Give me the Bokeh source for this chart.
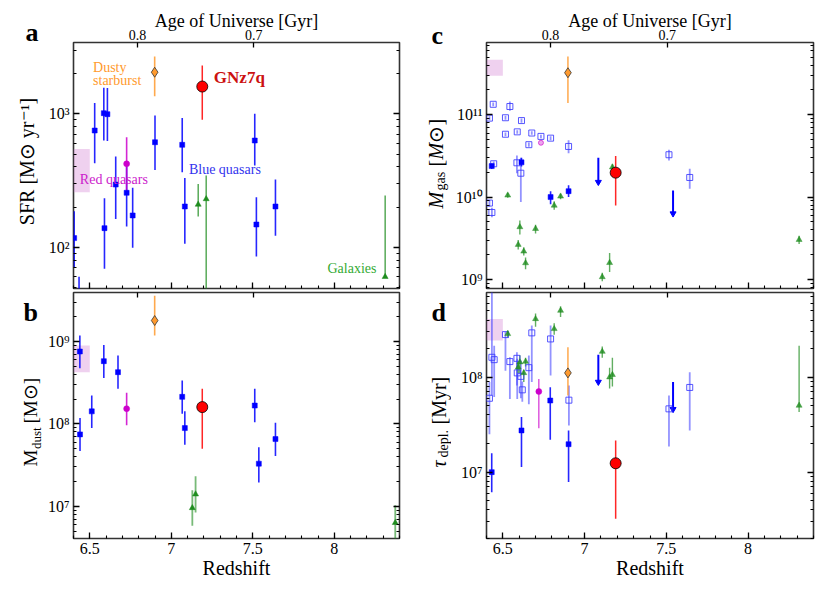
import numpy as np
from math import pi
from bokeh.plotting import figure
from bokeh.models import ColumnDataSource, Range1d, FixedTicker, LinearAxis, LogAxis, Label
from bokeh.layouts import column, row
from bokeh.embed import file_html
from bokeh.resources import INLINE

# ---------------- data ----------------
# Top axis: Age of Universe ticks (Gyr) and the redshift where they sit
age_labels = ["0.8", "0.7"]
age_z = [6.792, 7.506]

# Panel a: SFR [Msun/yr]
a_blue_z = [6.404, 6.434, 6.530, 6.586, 6.608, 6.590, 6.659, 6.726, 6.763, 6.900, 7.067, 7.083, 7.512, 7.522, 7.639]
a_blue_v = [117, 35, 750, 1012, 995, 139, 295, 256, 173, 613, 586, 202, 631, 148, 202]
a_blue_lo = [71, 20, 427, 631, 625, 69, 163, 143, 99, 380, 365, 106, 410, 85, 122]
a_blue_hi = [186, 60, 1209, 1567, 1560, 233, 479, 405, 279, 972, 933, 331, 1000, 237, 322]
a_gal_z = [7.165, 7.214, 8.312]
a_gal_v = [209, 230, 60]
a_gal_lo = [170, 10, 60]
a_gal_hi = [298, 345, 244]
a_red_z = [6.726]; a_red_v = [422]; a_red_lo = [254]; a_red_hi = [668]
a_dsb_z = [6.898]; a_dsb_v = [2053]; a_dsb_lo = [1357]; a_dsb_hi = [2692]
a_gn_z = [7.19]; a_gn_v = [1603]; a_gn_lo = [902]; a_gn_hi = [2304]
a_box = dict(left=[6.4], right=[6.5], bottom=[258], top=[546])

# Panel b: Mdust [Msun]
b_blue_z = [6.439, 6.440, 6.512, 6.586, 6.673, 7.067, 7.083, 7.512, 7.537, 7.639]
b_blue_v = [7.57e8, 7.46e7, 1.42e8, 5.78e8, 4.25e8, 2.13e8, 8.9e7, 1.67e8, 3.29e7, 6.55e7]
b_blue_lo = [4.75e8, 4.69e7, 8.9e7, 3.6e8, 2.67e8, 1.33e8, 5.6e7, 1.05e8, 1.94e7, 4.07e7]
b_blue_hi = [1.18e9, 1.18e8, 2.21e8, 9.1e8, 6.76e8, 3.37e8, 1.42e8, 2.67e8, 5.2e7, 1.03e8]
b_gal_z = [7.129, 7.149, 8.374]
b_gal_v = [9.55e6, 1.4e7, 6.3e6]
b_gal_lo = [5.8e6, 8.4e6, 1.0e6]
b_gal_hi = [1.56e7, 2.31e7, 1.03e7]
b_red_z = [6.726]; b_red_v = [1.53e8]; b_red_lo = [9.6e7]; b_red_hi = [2.39e8]
b_dsb_z = [6.898]; b_dsb_v = [1.8e9]; b_dsb_lo = [1.18e9]; b_dsb_hi = [3.6e9]
b_gn_z = [7.19]; b_gn_v = [1.6e8]; b_gn_lo = [5.0e7]; b_gn_hi = [2.67e8]
b_box = dict(left=[6.4], right=[6.5], bottom=[4.25e8], top=[8.95e8])

# Panel c: Mgas [Msun]
c_open_z = [6.418, 6.441, 6.543, 6.516, 6.614, 6.516, 6.588, 6.677, 6.659, 6.733, 6.792, 6.902,
            6.444, 6.418, 6.433, 6.586, 6.610, 7.516, 7.643]
c_open_v = [9.1e10, 1.34e11, 1.26e11, 9.2e10, 8.5e10, 5.8e10, 6.2e10, 6.0e10, 4.33e10, 5.46e10, 5.2e10, 4.12e10,
            2.54e10, 8.46e9, 6.5e9, 2.61e10, 1.95e10, 3.27e10, 1.73e10]
c_open_lo = [8.6e10, 1.27e11, 1.12e11, 8.7e10, 8.0e10, 5.5e10, 5.9e10, 5.7e10, 4.1e10, 5.2e10, 4.9e10, 3.4e10,
             2.4e10, 7.7e9, 5.7e9, 1.95e10, 8.7e9, 2.79e10, 1.26e10]
c_open_hi = [9.6e10, 1.41e11, 1.45e11, 9.7e10, 9.0e10, 6.1e10, 6.5e10, 6.3e10, 4.6e10, 5.7e10, 5.5e10, 4.9e10,
             2.7e10, 9.2e9, 7.4e9, 3.2e10, 3.0e10, 3.76e10, 2.21e10]
c_fill_z = [6.432, 6.614, 6.792, 6.902]
c_fill_v = [2.38e10, 2.64e10, 1.0e10, 1.18e10]
c_fill_lo = [2.2e10, 2.35e10, 8.2e9, 1.0e10]
c_fill_hi = [2.55e10, 3.0e10, 1.18e10, 1.39e10]
c_lim_z = [7.084, 7.541]
c_lim_top = [3.0e10, 1.2e10]
c_lim_v = [1.52e10, 6.3e9]
c_gal_z = [6.530, 6.604, 6.594, 6.628, 6.639, 6.700, 6.814, 6.853, 7.108, 7.153, 7.170, 8.312]
c_gal_v = [1.05e10, 4.33e9, 2.64e9, 2.19e9, 1.58e9, 4.12e9, 7.9e9, 1.02e10, 1.07e9, 1.59e9, 2.31e10, 3.03e9]
c_gal_lo = [9.8e9, 3.5e9, 2.3e9, 1.95e9, 1.33e9, 3.6e9, 7.0e9, 9.4e9, 9.5e8, 1.23e9, 2.1e10, 2.7e9]
c_gal_hi = [1.12e10, 5.2e9, 3.0e9, 2.45e9, 1.85e9, 4.6e9, 8.9e9, 1.1e10, 1.2e9, 2.09e9, 2.5e10, 3.4e9]
c_red_z = [6.733]; c_red_v = [4.57e10]
c_dsb_z = [6.898]; c_dsb_v = [3.24e11]; c_dsb_lo = [1.39e11]; c_dsb_hi = [5.1e11]
c_gn_z = [7.19]; c_gn_v = [1.98e10]; c_gn_lo = [7.9e9]; c_gn_hi = [3.15e10]
c_box = dict(left=[6.4], right=[6.5], bottom=[2.98e11], top=[4.66e11])

# Panel d: depletion time
d_open_z = [6.418, 6.433, 6.447, 6.516, 6.543, 6.586, 6.588, 6.610, 6.619, 6.659, 6.677, 6.792, 6.904, 7.516, 7.643]
d_open_v = [6.0e7, 1.62e8, 1.53e8, 2.81e8, 1.46e8, 1.58e8, 1.11e8, 1.02e8, 7.36e7, 1.26e8, 2.93e8, 2.53e8, 5.73e7, 4.64e7, 7.8e7]
d_open_lo = [2.5e7, 6.4e7, 6.2e7, 1.17e8, 5.9e7, 8.2e7, 5.9e7, 6.0e7, 5.5e7, 5.2e7, 8.9e7, 1.04e8, 3.1e7, 1.86e7, 2.75e7]
d_open_hi = [8.9e7, 1.0e9, 2.15e8, 3.0e8, 1.62e8, 1.83e8, 1.56e8, 1.5e8, 9.0e7, 1.69e8, 3.5e8, 3.5e8, 8.2e7, 6.4e7, 1.13e8]
d_fill_z = [6.432, 6.614, 6.790, 6.902]
d_fill_v = [1.0e7, 2.75e7, 5.68e7, 1.97e7]
d_fill_lo = [6.15e6, 1.13e7, 2.19e7, 7.85e6]
d_fill_hi = [1.58e7, 3.8e7, 7.85e7, 2.75e7]
d_lim_z = [7.084, 7.541]
d_lim_top = [1.72e8, 8.9e7]
d_lim_v = [8.9e7, 4.6e7]
d_gal_z = [6.530, 6.604, 6.594, 6.628, 6.639, 6.700, 6.814, 6.853, 7.108, 7.153, 7.170, 8.312]
d_gal_v = [2.86e8, 1.44e8, 1.27e8, 1.11e8, 1.46e8, 4.11e8, 3.23e8, 5.03e8, 1.86e8, 1.0e8, 1.06e8, 5.03e7]
d_gal_lo = [2.6e8, 1.1e8, 1.1e8, 8.9e7, 1.3e8, 3.4e8, 2.8e8, 4.3e8, 1.6e8, 7.6e7, 8.0e7, 4.3e7]
d_gal_hi = [3.1e8, 1.7e8, 1.45e8, 1.2e8, 1.6e8, 4.7e8, 3.7e8, 5.6e8, 2.1e8, 1.26e8, 1.6e8, 2.15e8]
d_red_z = [6.72]; d_red_v = [7.07e7]; d_red_lo = [2.9e7]; d_red_hi = [9.6e7]
d_dsb_z = [6.898]; d_dsb_v = [1.11e8]; d_dsb_lo = [6.4e7]; d_dsb_hi = [2.07e8]
d_gn_z = [7.19]; d_gn_v = [1.24e7]; d_gn_lo = [3.23e6]; d_gn_hi = [2.15e7]
d_box = dict(left=[6.4], right=[6.5], bottom=[2.43e8], top=[4.11e8])

# ---------------- styling ----------------
SERIF = "Liberation Serif"
BLUE = "#0000ff"
GREEN = "#1e8c1e"
MAGENTA = "#cc00cc"
ORANGE = "#ff9a2e"
RED = "#ff0000"

z_major = [6.5, 7.0, 7.5, 8.0]
z_minor = [round(v, 1) for v in np.arange(6.4, 8.41, 0.1)]

sup = str.maketrans("0123456789", "⁰¹²³⁴⁵⁶⁷⁸⁹")


def log_ticker(k0, k1):
    majors = [10.0 ** k for k in range(k0, k1 + 1)]
    minors = [m * 10.0 ** k for k in range(k0 - 1, k1 + 1) for m in range(2, 10)]
    return majors, minors


def style_axis(ax, show, size="16px", tick_in=6, minor_in=3, majors=None):
    ax.axis_line_color = None
    ax.major_tick_in = tick_in
    ax.major_tick_out = 0
    ax.minor_tick_in = minor_in
    ax.minor_tick_out = 0
    ax.major_tick_line_color = "black"
    ax.minor_tick_line_color = "black"
    ax.major_tick_line_width = 1.3
    ax.minor_tick_line_width = 1.1
    ax.major_label_text_font = SERIF
    ax.major_label_text_color = "black"
    ax.axis_label_text_font = SERIF
    ax.axis_label_text_font_style = "normal"
    ax.axis_label_text_color = "black"
    if show:
        ax.major_label_text_font_size = size
    else:
        ax.major_label_text_font_size = "1px"
        ax.major_label_standoff = 0
        ax.major_label_overrides = {m: "" for m in majors}


def make_fig(w, h, ml, mr, mt, mb, ylo, yhi, k0, k1, top_labels, bottom_labels):
    p = figure(width=w, height=h, x_range=Range1d(6.4, 8.4), y_range=Range1d(ylo, yhi),
               y_axis_type="log", output_backend="svg", toolbar_location=None,
               min_border_left=ml, min_border_right=mr, min_border_top=mt, min_border_bottom=mb)
    p.grid.visible = False
    p.outline_line_color = "#333333"
    p.outline_line_width = 1.6
    p.background_fill_color = "white"
    p.border_fill_color = "white"
    majors, minors = log_ticker(k0, k1)
    p.yaxis.ticker = FixedTicker(ticks=majors, minor_ticks=minors)
    p.yaxis.major_label_overrides = {m: "10" + str(int(round(np.log10(m)))).translate(sup) for m in majors}
    style_axis(p.yaxis[0], True, "16px")
    p.yaxis.major_label_standoff = 4
    ra = LogAxis(ticker=FixedTicker(ticks=majors, minor_ticks=minors))
    style_axis(ra, False, majors=majors)
    p.add_layout(ra, "right")
    p.xaxis.ticker = FixedTicker(ticks=z_major, minor_ticks=z_minor)
    if bottom_labels:
        p.xaxis.major_label_overrides = {6.5: "6.5", 7.0: "7", 7.5: "7.5", 8.0: "8"}
    style_axis(p.xaxis[0], bottom_labels, "16px", majors=z_major)
    if bottom_labels:
        p.xaxis.major_label_standoff = 4
        p.xaxis.axis_label = "Redshift"
        p.xaxis.axis_label_text_font_size = "20px"
        p.xaxis.axis_label_standoff = 0
    ta = LinearAxis(ticker=FixedTicker(ticks=age_z, minor_ticks=[]))
    if top_labels:
        ta.major_label_overrides = {zz: lab for zz, lab in zip(age_z, age_labels)}
    style_axis(ta, top_labels, "14px", tick_in=5, majors=age_z)
    if top_labels:
        ta.major_label_standoff = 3
        ta.axis_label = "Age of Universe [Gyr]"
        ta.axis_label_text_font_size = "18px"
        ta.axis_label_standoff = -4
    p.add_layout(ta, "above")
    return p


def strip(w, h):
    s = figure(width=w, height=h, x_range=Range1d(0, w), y_range=Range1d(h, 0),
               x_axis_type=None, y_axis_type=None, output_backend="svg", toolbar_location=None,
               min_border=0, min_border_left=0, min_border_right=0, min_border_top=0, min_border_bottom=0)
    s.grid.visible = False
    s.outline_line_color = None
    s.background_fill_color = "white"
    s.border_fill_color = "white"
    return s


def errbar(p, z, lo, hi, color, alpha=0.85, width=1.6):
    src = ColumnDataSource(dict(z=z, lo=lo, hi=hi))
    p.segment(x0="z", y0="lo", x1="z", y1="hi", source=src, line_color=color, line_alpha=alpha, line_width=width)


def pts(p, z, v, marker, size, fill, line="black", line_width=0.6, fill_alpha=1.0, line_alpha=1.0):
    src = ColumnDataSource(dict(z=z, v=v))
    p.scatter(x="z", y="v", source=src, marker=marker, size=size, fill_color=fill, fill_alpha=fill_alpha,
              line_color=line, line_width=line_width, line_alpha=line_alpha)


def box(p, d):
    p.quad(left=d["left"], right=d["right"], bottom=d["bottom"], top=d["top"],
           fill_color="#d27ad2", fill_alpha=0.35, line_color=None)


def limits(p, z, top, v):
    src = ColumnDataSource(dict(z=z, top=top, v=v))
    p.segment(x0="z", y0="top", x1="z", y1="v", source=src, line_color=BLUE, line_width=2)
    p.scatter(x="z", y="v", source=src, marker="inverted_triangle", size=6, fill_color=BLUE, line_color=BLUE)


def tlabel(p, x, y, text, size, color="black", style="normal", angle=0.0, align="left", baseline="alphabetic"):
    p.add_layout(Label(x=x, y=y, text=text, angle=angle, text_font=SERIF, text_font_size=size,
                       text_color=color, text_font_style=style, text_align=align, text_baseline=baseline))


def vlabel(p, x, y, text, size, style="normal", align="left"):
    tlabel(p, x, y, text, size, style=style, angle=pi / 2, align=align, baseline="middle")


# ---------------- figures ----------------
S1W, S2W = 44, 44
fa = make_fig(363, 290, 28, 8, 42, 2, 49, 3430, 2, 3, True, False)
fb = make_fig(363, 298, 28, 8, 2, 50, 4.06e6, 3.94e9, 7, 9, False, True)
fc = make_fig(372, 290, 35, 10, 42, 2, 7.75e8, 7.55e11, 9, 11, True, False)
fd = make_fig(372, 298, 35, 10, 2, 50, 2.0e6, 7.8e8, 7, 8, False, True)
s1 = strip(S1W, 588)
s2 = strip(S2W, 588)

# Panel a
box(fa, a_box)
errbar(fa, a_blue_z, a_blue_lo, a_blue_hi, BLUE)
errbar(fa, a_gal_z, a_gal_lo, a_gal_hi, GREEN, 0.8, 1.4)
errbar(fa, a_red_z, a_red_lo, a_red_hi, MAGENTA)
errbar(fa, a_dsb_z, a_dsb_lo, a_dsb_hi, ORANGE)
errbar(fa, a_gn_z, a_gn_lo, a_gn_hi, RED, 0.85, 1.5)
pts(fa, a_blue_z, a_blue_v, "square", 5, BLUE, BLUE, 0.5)
pts(fa, a_gal_z, a_gal_v, "triangle", 6, GREEN, GREEN, 0.5)
pts(fa, a_red_z, a_red_v, "circle", 6, MAGENTA, MAGENTA, 0.5)
pts(fa, a_dsb_z, a_dsb_v, "diamond", 10, ORANGE, "#333333", 0.8)
pts(fa, a_gn_z, a_gn_v, "circle", 11, RED, "black", 0.8)

# Panel b
box(fb, b_box)
errbar(fb, b_blue_z, b_blue_lo, b_blue_hi, BLUE)
errbar(fb, b_gal_z, b_gal_lo, b_gal_hi, GREEN, 0.6, 1.8)
errbar(fb, b_red_z, b_red_lo, b_red_hi, MAGENTA)
errbar(fb, b_dsb_z, b_dsb_lo, b_dsb_hi, ORANGE)
errbar(fb, b_gn_z, b_gn_lo, b_gn_hi, RED, 0.85, 1.5)
pts(fb, b_blue_z, b_blue_v, "square", 5, BLUE, BLUE, 0.5)
pts(fb, b_gal_z, b_gal_v, "triangle", 6, GREEN, GREEN, 0.5)
pts(fb, b_red_z, b_red_v, "circle", 6, MAGENTA, MAGENTA, 0.5)
pts(fb, b_dsb_z, b_dsb_v, "diamond", 10, ORANGE, "#333333", 0.8)
pts(fb, b_gn_z, b_gn_v, "circle", 11, RED, "black", 0.8)

# Panel c
box(fc, c_box)
errbar(fc, c_open_z, c_open_lo, c_open_hi, "#3a3aff", 0.55, 1.8)
errbar(fc, c_fill_z, c_fill_lo, c_fill_hi, BLUE, 0.85, 1.6)
errbar(fc, c_gal_z, c_gal_lo, c_gal_hi, GREEN, 0.7, 1.4)
errbar(fc, c_dsb_z, c_dsb_lo, c_dsb_hi, ORANGE, 0.8, 1.6)
errbar(fc, c_gn_z, c_gn_lo, c_gn_hi, RED, 0.85, 1.5)
limits(fc, c_lim_z, c_lim_top, c_lim_v)
pts(fc, c_open_z, c_open_v, "square", 6, "white", "#3a3aff", 1.0, 0.0, 0.85)
pts(fc, c_fill_z, c_fill_v, "square", 5, BLUE, BLUE, 0.5)
pts(fc, c_gal_z, c_gal_v, "triangle", 6, GREEN, GREEN, 0.5, 0.8, 0.8)
pts(fc, c_red_z, c_red_v, "circle", 5, MAGENTA, MAGENTA, 0.8, 0.35, 0.8)
pts(fc, c_dsb_z, c_dsb_v, "diamond", 10, ORANGE, "#333333", 0.8)
pts(fc, c_gn_z, c_gn_v, "circle", 11, RED, "black", 0.8)

# Panel d
box(fd, d_box)
errbar(fd, d_open_z, d_open_lo, d_open_hi, "#3a3aff", 0.55, 1.8)
errbar(fd, d_fill_z, d_fill_lo, d_fill_hi, BLUE, 0.85, 1.6)
errbar(fd, d_gal_z, d_gal_lo, d_gal_hi, GREEN, 0.7, 1.4)
errbar(fd, d_red_z, d_red_lo, d_red_hi, MAGENTA, 0.7, 1.4)
errbar(fd, d_dsb_z, d_dsb_lo, d_dsb_hi, ORANGE, 0.8, 1.6)
errbar(fd, d_gn_z, d_gn_lo, d_gn_hi, RED, 0.85, 1.5)
limits(fd, d_lim_z, d_lim_top, d_lim_v)
pts(fd, d_open_z, d_open_v, "square", 6, "white", "#3a3aff", 1.0, 0.0, 0.85)
pts(fd, d_fill_z, d_fill_v, "square", 5, BLUE, BLUE, 0.5)
pts(fd, d_gal_z, d_gal_v, "triangle", 6, GREEN, GREEN, 0.5, 0.8, 0.8)
pts(fd, d_red_z, d_red_v, "circle", 6, MAGENTA, MAGENTA, 0.5)
pts(fd, d_dsb_z, d_dsb_v, "diamond", 10, ORANGE, "#333333", 0.8)
pts(fd, d_gn_z, d_gn_v, "circle", 11, RED, "black", 0.8)

# ---------------- texts ----------------
tlabel(fa, 6.520, 2239, "Dusty", "14px", "#ff9a2e")
tlabel(fa, 6.520, 1778, "starburst", "14px", "#ff9a2e")
tlabel(fa, 7.261, 1862, "GNz7q", "17px", "#cc1111", "bold")
tlabel(fa, 6.439, 320, "Red quasars", "14px", "#cc22cc")
tlabel(fa, 7.108, 380, "Blue quasars", "14px", "#3333ee")
tlabel(fa, 7.958, 69.5, "Galaxies", "14px", "#33aa33")

# left strip (page coordinates): panel letters and rotated y titles
tlabel(s1, 25, 32, "a", "26px", style="bold")
tlabel(s1, 23, 312, "b", "26px", style="bold")
vlabel(s1, 26, 163, "SFR [M⊙ yr⁻¹]", "20px", align="center")
vlabel(s1, 29.5, 466, "M", "19px")
vlabel(s1, 35.5, 448.5, "dust", "13px")
vlabel(s1, 29.5, 423, "[M⊙]", "19px")

# middle strip (x offset by 407)
X0 = 407
tlabel(s2, 431 - X0, 35, "c", "26px", style="bold")
tlabel(s2, 431 - X0, 312, "d", "26px", style="bold")
vlabel(s2, 435 - X0, 208, "M", "20px", style="italic")
vlabel(s2, 440 - X0, 190, "gas", "14px")
vlabel(s2, 435 - X0, 166, "[", "20px")
vlabel(s2, 435 - X0, 159, "M", "20px", style="italic")
vlabel(s2, 435 - X0, 142, "⊙]", "20px")
vlabel(s2, 438 - X0, 467, "τ", "20px", style="italic")
vlabel(s2, 443 - X0, 457, "depl.", "14px")
vlabel(s2, 438 - X0, 424, "[Myr]", "20px")

layout = row(s1, column(fa, fb), s2, column(fc, fd))
open("out.html", "w").write(file_html(layout, INLINE))
